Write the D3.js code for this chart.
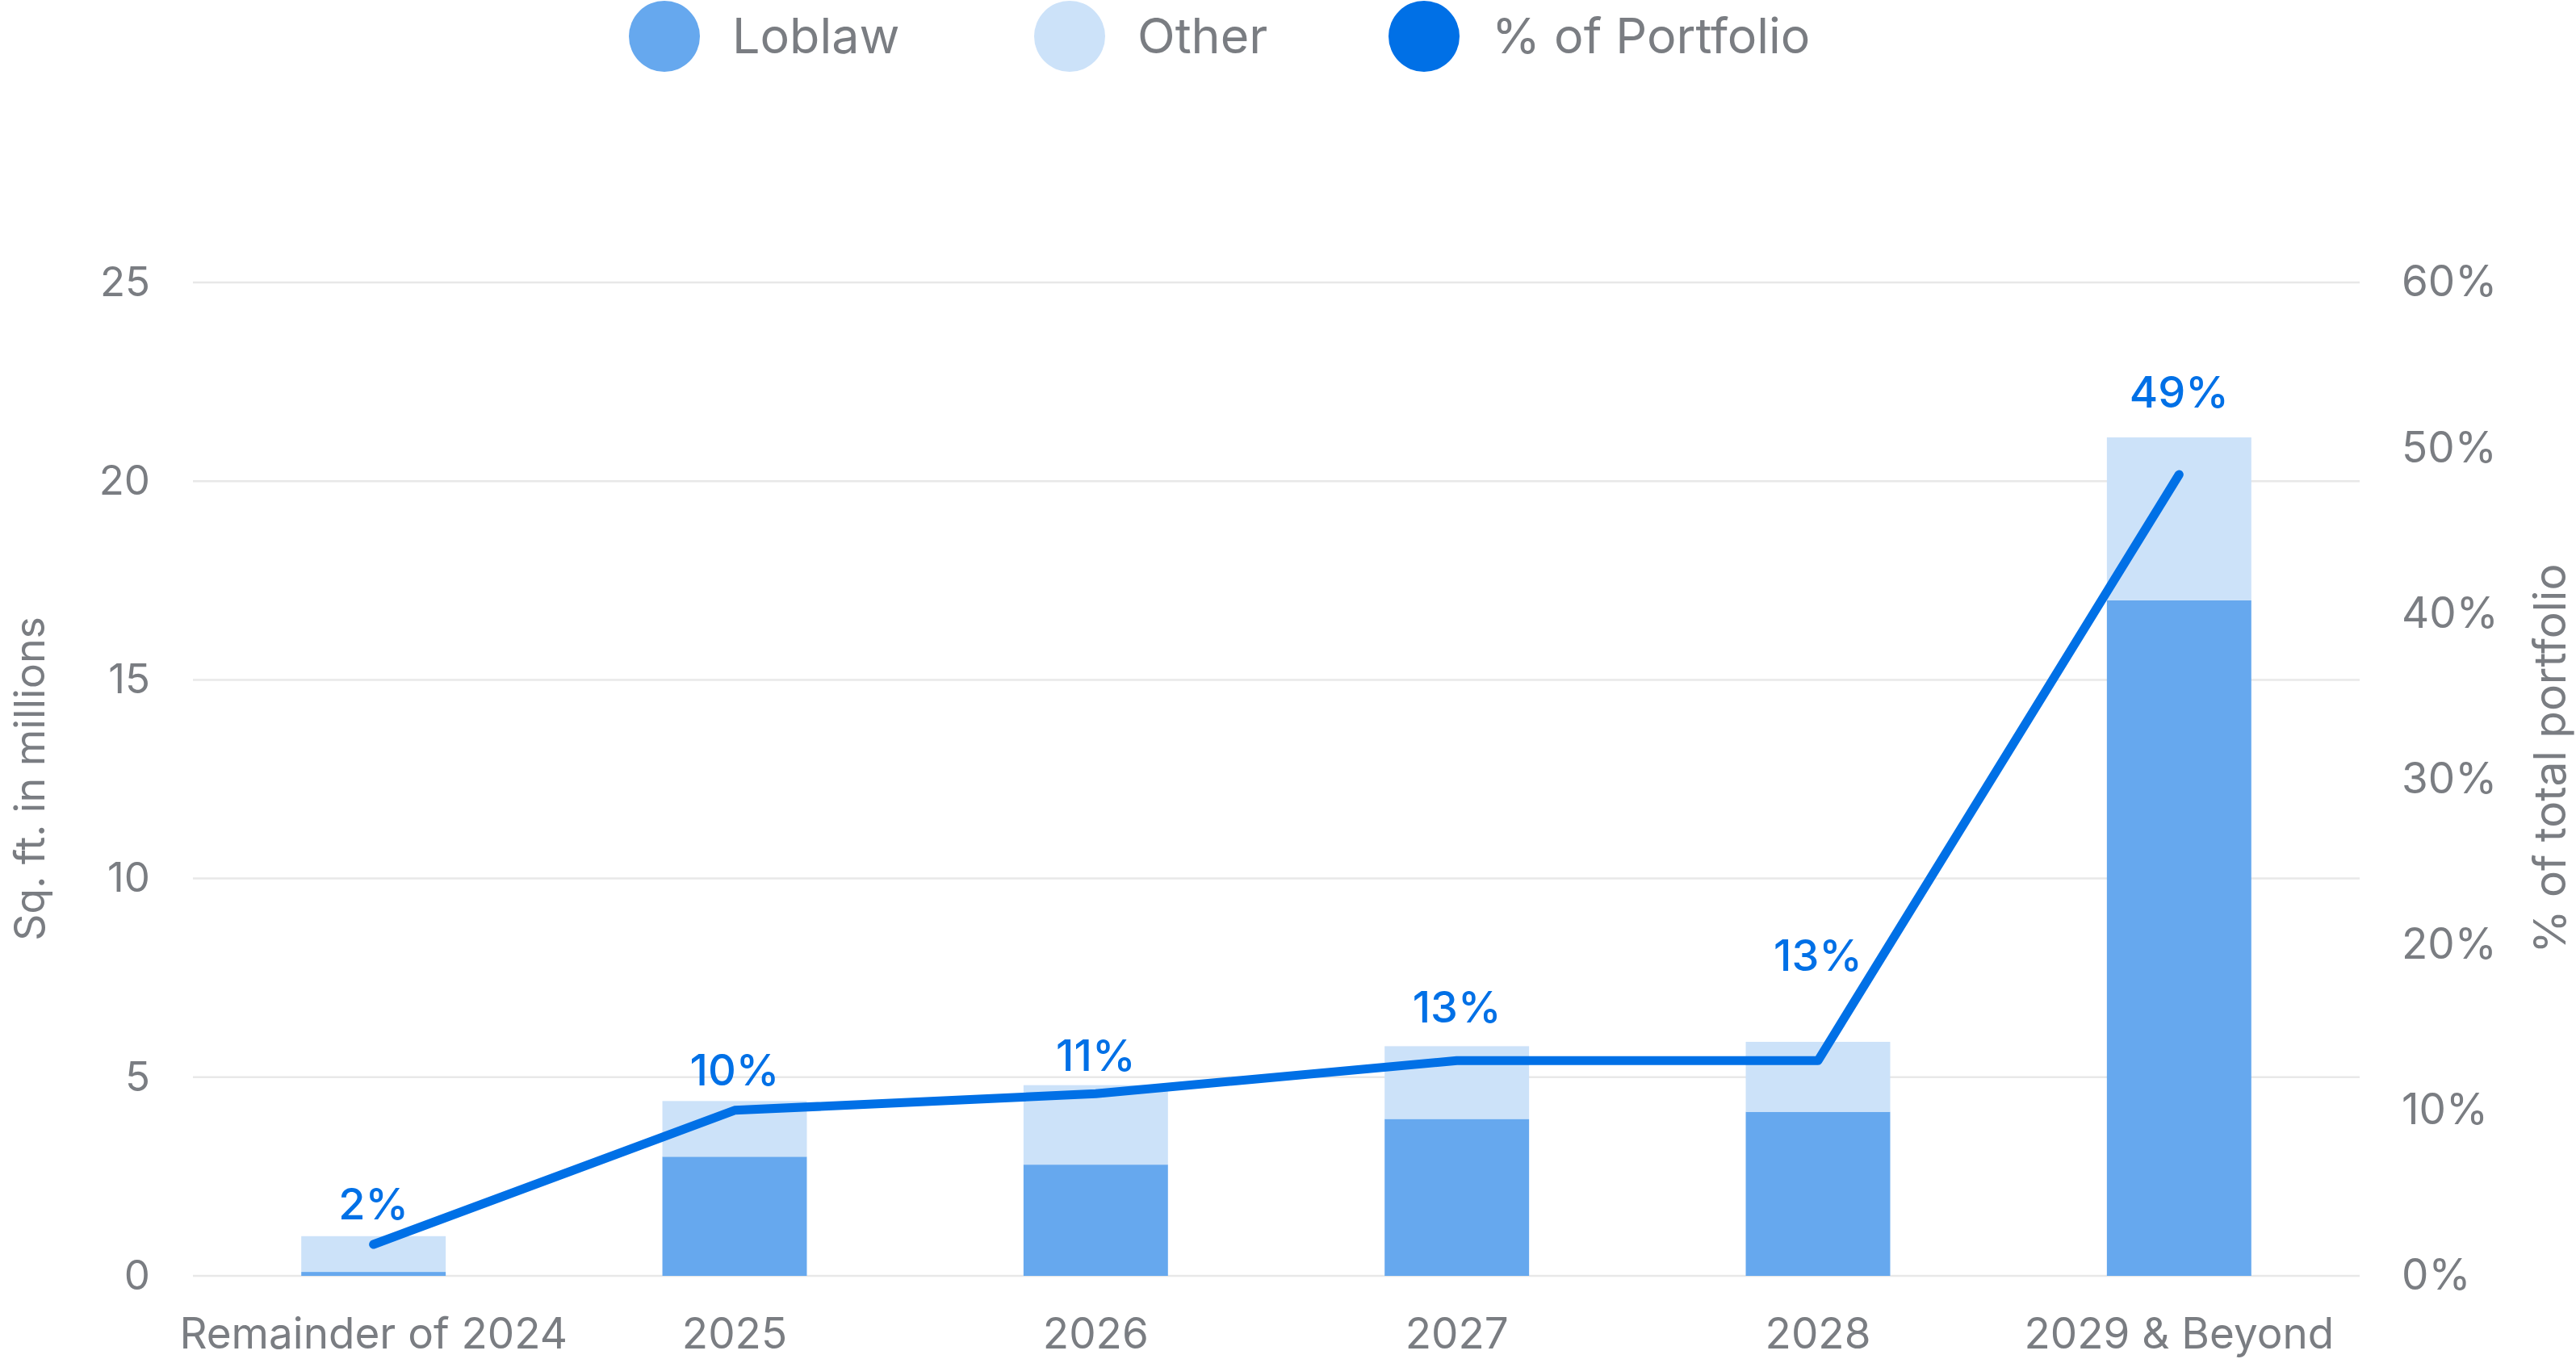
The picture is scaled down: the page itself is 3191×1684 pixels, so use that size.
<!DOCTYPE html>
<html><head><meta charset="utf-8">
<script src="https://cdn.jsdelivr.net/npm/d3@7"></script>
<style>html,body{margin:0;padding:0;background:#fff;}svg{display:block;font-family:Inter,"Noto Sans",sans-serif;}</style>
</head><body>
<svg id="chart" width="3191" height="1684"></svg>
<script>
const categories = ["Remainder of 2024", "2025", "2026", "2027", "2028", "2029 & Beyond"];
const loblaw = [0.1, 3.0, 2.8, 3.95, 4.13, 17.0];
const other = [0.9, 1.4, 2.0, 1.83, 1.76, 4.1];
const pctPortfolio = [1.9, 10, 11, 13, 13, 48.4];
const pctLabels = ["2%", "10%", "11%", "13%", "13%", "49%"];
const leftTicks = [0, 5, 10, 15, 20, 25];
const rightTicks = [0, 10, 20, 30, 40, 50, 60];
const legendItems = ["Loblaw", "Other", "% of Portfolio"];

// layout / style
const colors = {loblaw: "#66A8EE", other: "#CCE2F9", line: "#0070E6", text: "#7A7D82", grid: "#E8E8E8"};
const labelLift = [31, 31, 28, 47, 111, 83];
const M = {left: 239, right: 2923, top: 350, bottom: 1581};

const svg = d3.select("#chart");
const x = d3.scaleBand().domain(categories).range([M.left, M.right]).padding(0);
const y = d3.scaleLinear().domain([0, 25]).range([M.bottom, M.top]);
const yR = d3.scaleLinear().domain([0, 60]).range([M.bottom, M.top]);

// grid
svg.append("g").selectAll("line").data(leftTicks).join("line")
  .attr("x1", M.left).attr("x2", M.right)
  .attr("y1", d => y(d)).attr("y2", d => y(d))
  .attr("stroke", colors.grid).attr("stroke-width", 2.5);

// left axis
const la = svg.append("g").attr("transform", `translate(${M.left},0)`)
  .call(d3.axisLeft(y).tickValues(leftTicks).tickSize(0).tickPadding(53));
la.select(".domain").remove();
la.selectAll("text").attr("fill", colors.text).attr("font-size", 51).attr("font-family", "Inter");

// right axis
const ra = svg.append("g").attr("transform", `translate(${M.right},0)`)
  .call(d3.axisRight(yR).tickValues(rightTicks).tickSize(0).tickPadding(52).tickFormat(d => d + "%"));
ra.select(".domain").remove();
ra.selectAll("text").attr("fill", colors.text).attr("font-size", 53).attr("font-family", "Inter");

// bottom axis
const ba = svg.append("g").attr("transform", `translate(0,${M.bottom})`)
  .call(d3.axisBottom(x).tickSize(0).tickPadding(52));
ba.select(".domain").remove();
ba.selectAll("text").attr("fill", colors.text).attr("font-size", 53).attr("font-family", "Inter");

// bars
const barW = x.bandwidth() * 0.4;
const bars = svg.append("g");
bars.selectAll("rect.lob").data(categories).join("rect").attr("class", "lob")
  .attr("x", d => x(d) + (x.bandwidth() - barW) / 2).attr("width", barW)
  .attr("y", (d, i) => y(loblaw[i])).attr("height", (d, i) => y(0) - y(loblaw[i]))
  .attr("fill", colors.loblaw);
bars.selectAll("rect.oth").data(categories).join("rect").attr("class", "oth")
  .attr("x", d => x(d) + (x.bandwidth() - barW) / 2).attr("width", barW)
  .attr("y", (d, i) => y(loblaw[i] + other[i])).attr("height", (d, i) => y(loblaw[i]) - y(loblaw[i] + other[i]))
  .attr("fill", colors.other);

// line
const cx = d => x(d) + x.bandwidth() / 2;
const line = d3.line().x((d, i) => cx(categories[i])).y(d => yR(d));
svg.append("path").datum(pctPortfolio).attr("d", line)
  .attr("fill", "none").attr("stroke", colors.line).attr("stroke-width", 11)
  .attr("stroke-linecap", "round").attr("stroke-linejoin", "round");

// labels
svg.append("g").selectAll("text").data(pctLabels).join("text")
  .attr("x", (d, i) => cx(categories[i]))
  .attr("y", (d, i) => yR(pctPortfolio[i]) - labelLift[i])
  .attr("text-anchor", "middle").attr("font-size", 54).attr("font-weight", 500)
  .attr("fill", colors.line).text(d => d);

// axis titles
svg.append("text").attr("transform", `translate(55,965) rotate(-90)`)
  .attr("text-anchor", "middle").attr("font-size", 52).attr("fill", colors.text).text("Sq. ft. in millions");
svg.append("text").attr("transform", `translate(3178,940) rotate(-90)`)
  .attr("text-anchor", "middle").attr("font-size", 55).attr("fill", colors.text).text("% of total portfolio");

// legend
const legendColors = [colors.loblaw, colors.other, colors.line];
const legendX = [823, 1325, 1764];
const lg = svg.append("g");
legendItems.forEach((t, i) => {
  lg.append("circle").attr("cx", legendX[i]).attr("cy", 45).attr("r", 44).attr("fill", legendColors[i]);
  lg.append("text").attr("x", legendX[i] + 84).attr("y", 45).attr("dy", "0.35em")
    .attr("font-size", 61).attr("fill", colors.text).text(t);
});
</script>
</body></html>
